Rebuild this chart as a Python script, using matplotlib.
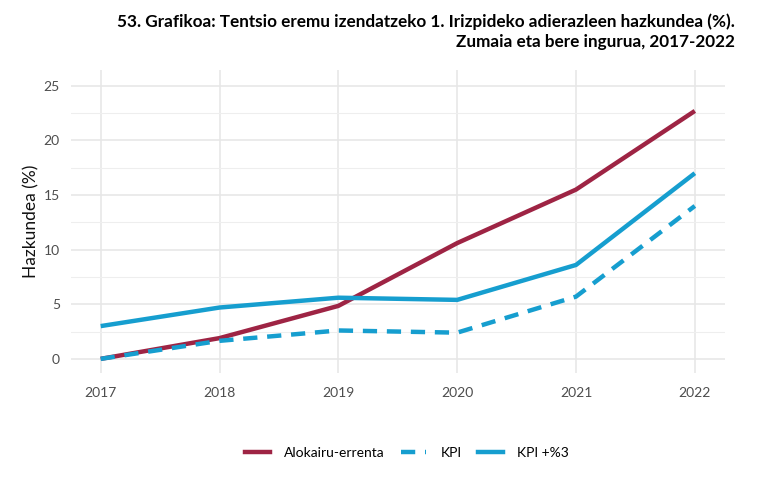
import numpy as np
import matplotlib
matplotlib.use('Agg')
import matplotlib.pyplot as plt
from matplotlib.lines import Line2D

years = [2017, 2018, 2019, 2020, 2021, 2022]
alokairu = [0.0, 1.9, 4.85, 10.6, 15.5, 22.7]
kpi = [0.0, 1.65, 2.6, 2.4, 5.7, 14.0]
kpi3 = [3.0, 4.7, 5.6, 5.4, 8.6, 17.0]

red = '#9E2444'
blue = '#169ECF'

plt.rcParams['font.family'] = ['Lato', 'DejaVu Sans']

fig = plt.figure(figsize=(7.68, 4.78), dpi=100)
ax = fig.add_axes([0.0924, 0.22, 0.851, 0.634])

ax.plot(years, alokairu, color=red, lw=3.2, solid_capstyle='butt')
ax.plot(years, kpi, color=blue, lw=3.2, ls=(0, (3.2, 2.2)))
ax.plot(years, kpi3, color=blue, lw=3.2, solid_capstyle='butt')

ax.set_xlim(2016.75, 2022.25)
ax.set_ylim(-1.28, 26.47)
ax.set_xticks(years)
ax.set_yticks([0, 5, 10, 15, 20, 25])
ax.set_yticks(np.arange(2.5, 26, 5), minor=True)
ax.grid(True, which='major', color='#e6e6e6', lw=1.1)
ax.grid(True, which='minor', axis='y', color='#eeeeee', lw=0.8)
ax.set_axisbelow(True)
for s in ax.spines.values():
    s.set_visible(False)
ax.tick_params(axis='both', which='both', length=0, labelsize=10, colors='#4d4d4d', pad=8)
ax.tick_params(axis='x', pad=10)
ax.set_ylabel('Hazkundea (%)', fontsize=12.5, color='#111111', labelpad=3)

fig.text(0.957, 0.972, '53. Grafikoa: Tentsio eremu izendatzeko 1. Irizpideko adierazleen hazkundea (%).\nZumaia eta bere ingurua, 2017-2022',
         ha='right', va='top', fontsize=12.3, fontweight='bold', linespacing=1.3)

handles = [Line2D([], [], color=red, lw=3.2),
           Line2D([], [], color=blue, lw=3.2, ls=(0, (3.2, 2.2))),
           Line2D([], [], color=blue, lw=3.2)]
fig.legend(handles, ['Alokairu-errenta', 'KPI', 'KPI +%3'], loc='center',
           bbox_to_anchor=(0.53, 0.052), ncol=3, frameon=False, fontsize=10,
           handlelength=1.8, columnspacing=1.2, handletextpad=1.0)

fig.savefig('out.png', dpi=100)
